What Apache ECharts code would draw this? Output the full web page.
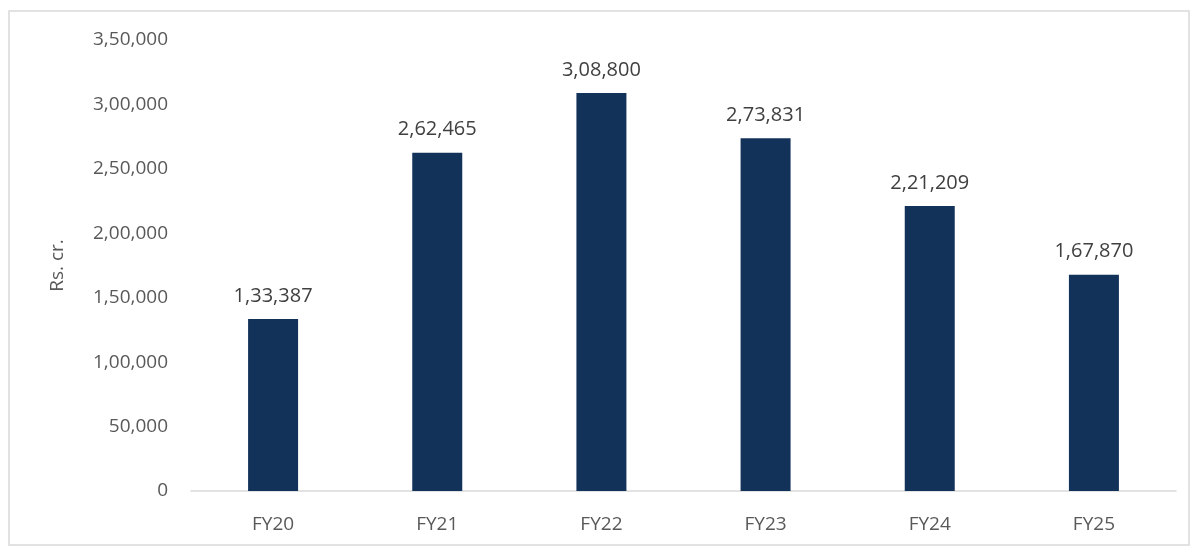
<!DOCTYPE html>
<html><head><meta charset="utf-8">
<script src="https://cdn.jsdelivr.net/npm/echarts@6/dist/echarts.min.js"></script>
<style>html,body{margin:0;padding:0;background:#fff}#c{width:1194px;height:549px}</style>
</head><body><div id="c"></div>
<script>
const categories = ["FY20","FY21","FY22","FY23","FY24","FY25"];
const values = [133387, 262465, 308800, 273831, 221209, 167870];
const yTicks = [0, 50000, 100000, 150000, 200000, 250000, 300000, 350000];
const yAxisName = "Rs. cr.";

function inr(n){
  const s = String(Math.round(n));
  if (s.length <= 3) return s;
  const last3 = s.slice(-3);
  let rest = s.slice(0, -3);
  const parts = [];
  while (rest.length > 2){ parts.unshift(rest.slice(-2)); rest = rest.slice(0,-2); }
  if (rest) parts.unshift(rest);
  return parts.join(",") + "," + last3;
}
const font = "'Open Sans', 'Liberation Sans', sans-serif";
const chart = echarts.init(document.getElementById('c'));
chart.setOption({
  animation:false,
  graphic:[{type:'rect',shape:{x:9,y:11,width:1180,height:534},style:{fill:'none',stroke:'#d9d9d9',lineWidth:1.5},z:-1}],
  grid:{left:191,right:18,top:40,bottom:58},
  xAxis:{type:'category',data:categories,
    axisLine:{show:true,lineStyle:{color:'#d9d9d9',width:1.5}},
    axisTick:{show:false},
    axisLabel:{color:'#595959',fontSize:19,fontFamily:font,margin:24}},
  yAxis:{type:'value',min:yTicks[0],max:yTicks[yTicks.length-1],interval:yTicks[1]-yTicks[0],
    name:yAxisName,nameLocation:'middle',nameGap:124,nameRotate:90,
    nameTextStyle:{color:'#595959',fontSize:19,fontFamily:font},
    axisLine:{show:false},axisTick:{show:false},splitLine:{show:false},
    axisLabel:{color:'#595959',fontSize:19,fontFamily:font,margin:23,formatter:v=>inr(v)}},
  series:[{type:'bar',data:values,barWidth:50,
    itemStyle:{color:'#13325a'},
    label:{show:true,position:'top',distance:13,color:'#404040',fontSize:20,fontFamily:font,formatter:p=>inr(p.value)}}]
});
</script></body></html>
